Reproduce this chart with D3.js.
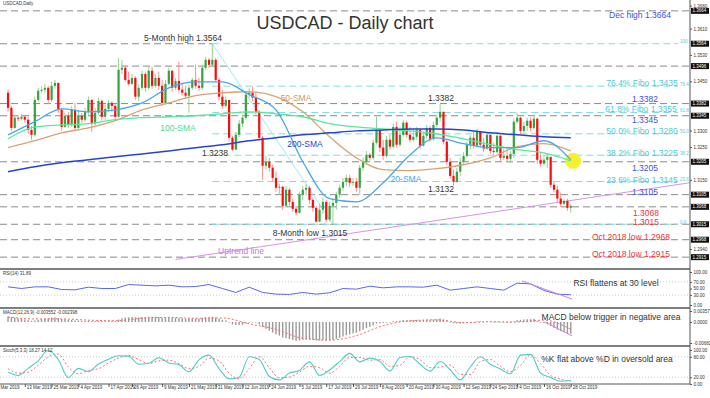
<!DOCTYPE html>
<html><head><meta charset="utf-8">
<script src="https://cdnjs.cloudflare.com/ajax/libs/d3/7.8.5/d3.min.js"></script>
<style>body{margin:0;background:#fff}svg{display:block;font-family:"Liberation Sans",Arial,sans-serif}</style>
</head><body><svg id="c" width="710" height="398"></svg>
<script>
// ---------------- DATA ----------------
const firstOpen = 1.3415;
const closes = [
1.3369,1.3308,1.3339,1.3336,1.3342,1.3333,1.3302,1.3287,1.3393,1.3421,
1.3424,1.3430,1.3393,1.3436,1.3445,1.3363,1.3311,1.3345,1.3317,1.3363,
1.3308,1.3345,1.3333,1.3357,1.3393,1.3321,1.3354,1.3390,1.3342,1.3366,
1.3384,1.3375,1.3342,1.3485,1.3491,1.3454,1.3442,1.3460,1.3403,1.3430,
1.3472,1.3430,1.3482,1.3436,1.3460,1.3436,1.3384,1.3442,1.3482,1.3430,
1.3451,1.3424,1.3415,1.3406,1.3430,1.3454,1.3436,1.3430,1.3491,1.3515,
1.3500,1.3515,1.3454,1.3403,1.3375,1.3393,1.3278,1.3242,1.3287,1.3321,
1.3339,1.3409,1.3415,1.3400,1.3357,1.3278,1.3193,1.3205,1.3187,1.3156,
1.3126,1.3129,1.3071,1.3120,1.3083,1.3062,1.3050,1.3105,1.3120,1.3126,
1.3089,1.3065,1.3023,1.3059,1.3083,1.3029,1.3071,1.3080,1.3105,1.3126,
1.3144,1.3156,1.3141,1.3144,1.3126,1.3187,1.3205,1.3226,1.3217,1.3263,
1.3302,1.3248,1.3223,1.3272,1.3251,1.3311,1.3257,1.3287,1.3324,1.3287,
1.3272,1.3281,1.3302,1.3254,1.3284,1.3308,1.3275,1.3317,1.3339,1.3357,
1.3266,1.3205,1.3162,1.3144,1.3175,1.3205,1.3223,1.3257,1.3278,1.3254,
1.3296,1.3257,1.3245,1.3287,1.3238,1.3235,1.3284,1.3217,1.3223,1.3214,
1.3229,1.3327,1.3339,1.3299,1.3314,1.3330,1.3308,1.3336,1.3211,1.3199,
1.3211,1.3220,1.3135,1.3120,1.3093,1.3077,1.3086,1.3065,1.3071];
const highs = [
1.3424,1.3375,1.3348,1.3345,1.3351,1.3348,1.3342,1.3314,1.3403,1.3430,
1.3436,1.3442,1.3436,1.3448,1.3454,1.3439,1.3369,1.3354,1.3357,1.3375,
1.3384,1.3363,1.3354,1.3369,1.3403,1.3396,1.3369,1.3400,1.3396,1.3378,
1.3393,1.3390,1.3381,1.3521,1.3515,1.3497,1.3479,1.3472,1.3466,1.3442,
1.3482,1.3479,1.3494,1.3494,1.3472,1.3479,1.3454,1.3454,1.3491,1.3479,
1.3460,1.3509,1.3445,1.3436,1.3439,1.3460,1.3500,1.3460,1.3500,1.3524,
1.3521,1.3564,1.3521,1.3460,1.3424,1.3403,1.3393,1.3284,1.3296,1.3333,
1.3348,1.3418,1.3430,1.3433,1.3418,1.3363,1.3284,1.3223,1.3217,1.3196,
1.3175,1.3138,1.3132,1.3132,1.3126,1.3093,1.3071,1.3114,1.3132,1.3138,
1.3132,1.3096,1.3071,1.3077,1.3096,1.3089,1.3083,1.3093,1.3114,1.3135,
1.3156,1.3166,1.3166,1.3156,1.3156,1.3196,1.3217,1.3238,1.3232,1.3272,
1.3342,1.3308,1.3272,1.3284,1.3287,1.3321,1.3327,1.3311,1.3333,1.3330,
1.3311,1.3302,1.3311,1.3308,1.3293,1.3317,1.3314,1.3327,1.3348,1.3382,
1.3351,1.3272,1.3217,1.3181,1.3187,1.3217,1.3235,1.3266,1.3287,1.3296,
1.3305,1.3299,1.3278,1.3296,1.3281,1.3263,1.3296,1.3287,1.3245,1.3251,
1.3238,1.3336,1.3354,1.3342,1.3327,1.3339,1.3339,1.3348,1.3339,1.3235,
1.3223,1.3229,1.3220,1.3144,1.3132,1.3111,1.3093,1.3093,1.3077];
const lows = [
1.3357,1.3299,1.3305,1.3327,1.3330,1.3324,1.3290,1.3272,1.3281,1.3387,
1.3415,1.3415,1.3381,1.3387,1.3427,1.3354,1.3299,1.3308,1.3308,1.3311,
1.3299,1.3302,1.3324,1.3327,1.3348,1.3296,1.3314,1.3348,1.3330,1.3333,
1.3357,1.3357,1.3330,1.3339,1.3472,1.3448,1.3436,1.3439,1.3393,1.3390,
1.3424,1.3418,1.3424,1.3427,1.3430,1.3424,1.3375,1.3378,1.3436,1.3418,
1.3424,1.3415,1.3406,1.3396,1.3354,1.3424,1.3427,1.3421,1.3424,1.3485,
1.3491,1.3494,1.3448,1.3393,1.3366,1.3369,1.3266,1.3238,1.3242,1.3278,
1.3311,1.3333,1.3400,1.3390,1.3348,1.3269,1.3150,1.3181,1.3175,1.3147,
1.3114,1.3105,1.3059,1.3065,1.3071,1.3053,1.3041,1.3047,1.3089,1.3102,
1.3077,1.3053,1.3020,1.3022,1.3047,1.3020,1.3023,1.3015,1.3059,1.3096,
1.3117,1.3132,1.3129,1.3132,1.3114,1.3105,1.3178,1.3196,1.3208,1.3211,
1.3257,1.3235,1.3211,1.3217,1.3242,1.3245,1.3248,1.3251,1.3281,1.3278,
1.3263,1.3266,1.3272,1.3245,1.3251,1.3275,1.3266,1.3269,1.3311,1.3327,
1.3257,1.3196,1.3153,1.3132,1.3141,1.3162,1.3196,1.3217,1.3242,1.3245,
1.3248,1.3248,1.3235,1.3242,1.3229,1.3226,1.3229,1.3208,1.3211,1.3205,
1.3202,1.3217,1.3321,1.3290,1.3293,1.3299,1.3299,1.3302,1.3199,1.3190,
1.3193,1.3187,1.3126,1.3111,1.3083,1.3068,1.3074,1.3056,1.3050];

// moving averages, read every 8 candles
const smaIdx = d3.range(0, 169, 8);
const sma20  = [1.3287,1.3327,1.3366,1.3357,1.3363,1.3384,1.3430,1.3448,1.3448,1.3409,1.3363,1.3205,1.3093,1.3083,1.3141,1.3226,1.3278,1.3260,1.3248,1.3248,1.3269,1.3211];
const sma50  = [1.3248,1.3269,1.3293,1.3308,1.3330,1.3363,1.3384,1.3406,1.3415,1.3418,1.3403,1.3357,1.3281,1.3217,1.3181,1.3178,1.3184,1.3196,1.3217,1.3251,1.3260,1.3238];
const sma100 = [1.3275,1.3311,1.3317,1.3321,1.3333,1.3339,1.3342,1.3345,1.3351,1.3357,1.3351,1.3342,1.3321,1.3311,1.3305,1.3299,1.3290,1.3275,1.3257,1.3242,1.3232,1.3208];
const sma200 = [1.3175,1.3190,1.3202,1.3211,1.3220,1.3229,1.3238,1.3248,1.3257,1.3269,1.3278,1.3287,1.3293,1.3299,1.3302,1.3305,1.3305,1.3302,1.3293,1.3287,1.3281,1.3278];

const levels = [1.3664,1.3564,1.3496,1.3382,1.3345,1.3205,1.3105,1.3068,1.3015,1.2968,1.2915];
const fibLevels = [1.3564,1.3435,1.3355,1.3290,1.3225,1.3145,1.3015];
const fibNames = ["100.0","76.4","61.8","50.0","38.2","23.6","0.0"];
const fibHighIdx = 61, fibLowIdx = 97;
const uptrend = [[50, 1.2908], [204, 1.3142]];
const priceTicks = [1.3680,1.3610,1.3530,1.3450,1.3300,1.3250,1.3150,1.2940];

// RSI, read every 4 candles
const rsiIdx = d3.range(0, 169, 4);
const rsi = [55,50,55,55,47,46,54,50,50,62,60,58,60,55,56,62,50,38,54,38,33,32,38,33,37,50,48,57,52,55,55,54,60,45,50,55,50,45,66,64,44,33,31];
const rsiTrend = [[153.4, 73], [168.4, 18]];

// MACD histogram per candle, signal read every 8 candles
const macd = [
0.0018,0.0016,0.0014,0.0012,0.0010,0.0008,0.0006,0.0004,0.0005,0.0007,0.0009,
0.0011,0.0012,0.0014,0.0015,0.0013,0.0010,0.0009,0.0007,0.0007,0.0005,
0.0005,0.0004,0.0004,0.0005,0.0003,0.0003,0.0004,0.0003,0.0003,0.0004,0.0004,0.0003,
0.0008,0.0012,0.0014,0.0015,0.0016,0.0015,0.0015,0.0016,0.0016,0.0017,0.0017,0.0017,0.0016,
0.0014,0.0014,0.0015,0.0014,0.0014,0.0013,0.0012,0.0011,0.0011,0.0011,0.0011,0.0011,0.0013,0.0015,0.0016,0.0017,
0.0015,0.0011,0.0007,0.0005,-0.0002,-0.0008,-0.0010,-0.0010,-0.0009,-0.0005,-0.0002,0.0000,-0.0002,-0.0008,
-0.0016,-0.0022,-0.0028,-0.0034,-0.0040,-0.0044,-0.0050,-0.0052,-0.0055,-0.0058,-0.0061,-0.0060,-0.0058,-0.0057,-0.0057,-0.0058,-0.0060,-0.0060,-0.0059,-0.0060,-0.0059,-0.0058,
-0.0055,-0.0051,-0.0047,-0.0043,-0.0040,-0.0037,-0.0035,-0.0030,-0.0025,-0.0020,-0.0016,-0.0011,-0.0005,
-0.0004,-0.0003,-0.0001,0.0000,0.0003,0.0003,0.0004,0.0006,0.0006,0.0006,0.0006,0.0007,0.0006,0.0006,0.0007,0.0007,0.0008,0.0009,
0.0011,0.0008,0.0004,0.0000,-0.0004,-0.0005,-0.0005,-0.0004,-0.0002,0.0000,0.0000,0.0002,0.0002,0.0001,0.0002,0.0001,0.0000,0.0001,-0.0001,-0.0002,-0.0003,-0.0003,
0.0002,0.0006,0.0007,0.0008,0.0009,0.0009,0.0010,
0.0004,0.0000,-0.0004,-0.0007,-0.0013,-0.0019,-0.0025,-0.0030,-0.0033,-0.0036,-0.0038];
const signalIdx = d3.range(0, 169, 8);
const signal = [0.0016,0.0010,0.0010,0.0006,0.0004,0.0012,0.0015,0.0012,0.0013,-0.0006,-0.0024,-0.0053,-0.0059,-0.0044,-0.0012,0.0004,0.0007,-0.0002,0.0001,0.0000,0.0006,-0.0024];
const macdTrend = [[160.3, 0.0000], [168.4, -0.0045]];

// Stochastic, read every 3 candles
const stochIdx = d3.range(0, 169, 3);
const stochK = [35,25,46,68,100,72,19,46,36,59,73,83,82,58,61,77,62,57,36,71,85,45,15,20,80,72,22,12,32,40,65,25,41,66,90,65,76,67,38,78,81,58,38,66,42,12,50,80,58,44,30,85,87,32,19,8,11];
const stochD = [45,32,35,55,80,88,50,30,40,45,62,76,84,72,60,68,70,60,45,52,76,68,32,15,45,80,48,18,20,35,52,48,32,52,78,78,70,72,52,55,80,72,48,50,56,28,28,66,72,52,36,55,86,60,25,14,8];

const dateIdx = [-4,5,13,21,30,37,46,54,62,70,78,87,95,103,111,119,127,136,144,152,160,168];
const dateLabels = ["1 Mar 2019","13 Mar 2019","25 Mar 2019","4 Apr 2019","17 Apr 2019","26 Apr 2019","9 May 2019","21 May 2019","31 May 2019","12 Jun 2019","24 Jun 2019","5 Jul 2019","17 Jul 2019","29 Jul 2019","8 Aug 2019","20 Aug 2019","30 Aug 2019","12 Sep 2019","24 Sep 2019","4 Oct 2019","16 Oct 2019","28 Oct 2019"];

// ---------------- CHART ----------------
const PR = 690;
const svg = d3.select('#c');
const x = d3.scaleLinear().domain([-2.4, 203.6]).range([0, PR]);
const y = d3.scaleLinear().domain([1.3697, 1.2882]).range([0, 268]);
const yR = d3.scaleLinear().domain([0, 100]).range([305, 272]);
const yM = d3.scaleLinear().domain([-0.00682, 0.00357]).range([343, 311]);
const yS = d3.scaleLinear().domain([0, 100]).range([384, 350]);

const defs = svg.append('defs');
function clip(id, y0, h){ defs.append('clipPath').attr('id', id).append('rect').attr('x',0).attr('y',y0).attr('width',PR).attr('height',h); }
clip('cm',0,268); clip('cr',270,38); clip('cmd',309,37); clip('cs',347,37);

const main = svg.append('g').attr('clip-path','url(#cm)');

// horizontal S/R levels
levels.forEach(v => {
  main.append('line').attr('x1',0).attr('x2', v===fibLevels[0] ? x(fibHighIdx) : PR)
    .attr('y1',y(v)).attr('y2',y(v)).attr('stroke','#8a8a8a').attr('stroke-width',1).attr('stroke-dasharray','7,4');
});
// fibo levels
fibLevels.forEach((v,i) => {
  main.append('line').attr('x1',x(fibHighIdx)).attr('x2',678).attr('y1',y(v)).attr('y2',y(v))
    .attr('stroke','#7fdce4').attr('stroke-width',1).attr('stroke-dasharray','7,4');
  main.append('text').attr('x',680).attr('y',y(v)-0.5).attr('font-size',4.5).attr('fill','#5cc8d0').text(fibNames[i]);
});
main.append('line').attr('x1',x(fibHighIdx)).attr('y1',y(fibLevels[0])).attr('x2',x(fibLowIdx)).attr('y2',y(fibLevels[6]))
  .attr('stroke','#9ee8f0').attr('stroke-width',1);

// uptrend line
main.append('line').attr('x1',x(uptrend[0][0])).attr('y1',y(uptrend[0][1])).attr('x2',x(uptrend[1][0])).attr('y2',y(uptrend[1][1]))
  .attr('stroke','#d892e8').attr('stroke-width',1);

// candles
const cdl = closes.map((c,i) => {
  const o = i===0 ? firstOpen : closes[i-1];
  return {i, o, c, h: Math.max(highs[i], o, c), l: Math.min(lows[i], o, c)};
});
main.selectAll('.wick').data(cdl).join('line')
  .attr('x1',d=>x(d.i)).attr('x2',d=>x(d.i)).attr('y1',d=>y(d.h)).attr('y2',d=>y(d.l))
  .attr('stroke',d=>d.c>=d.o?'#8fd68f':'#ff8c8c').attr('stroke-width',1);
main.selectAll('.body').data(cdl).join('rect')
  .attr('x',d=>x(d.i)-1.1).attr('width',2.2)
  .attr('y',d=>y(Math.max(d.o,d.c))).attr('height',d=>Math.max(1, Math.abs(y(d.o)-y(d.c))))
  .attr('fill',d=>d.c>=d.o?'#35a33f':'#ff0a0a');

// yellow highlight
main.append('circle').attr('cx',x(168.7)).attr('cy',y(1.3208)).attr('r',8).attr('fill','#f6f022').attr('opacity',0.95);

// SMAs
const smaLine = d3.line().x((d,i)=>x(smaIdx[i])).y(d=>y(d)).curve(d3.curveMonotoneX);
[[sma50,'#d9a374',1.3],[sma100,'#56e89c',1.3],[sma200,'#2444d4',1.5],[sma20,'#48a6ee',1.3]].forEach(([arr,col,w]) => {
  main.append('path').attr('d',smaLine(arr)).attr('fill','none').attr('stroke',col).attr('stroke-width',w);
});

// ---------- texts ----------
function txt(t, tx, ty, col, size, anchor){
  svg.append('text').attr('x',tx).attr('y',ty).attr('fill',col).attr('font-size',size||8.5)
    .attr('text-anchor',anchor||'middle').text(t);
}
txt('USDCAD,Daily',3,5,'#333',4.5,'start');
txt('USDCAD - Daily chart',345,29,'#333',18);
txt('5-Month high 1.3564',183,41,'#333');
txt('Dec high 1.3664',640,18,'#3d50e2');
txt('76.4% Fibo 1.3435',642,86,'#4ccad4');
txt('61.8% Fibo 1.3355',641,112,'#4ccad4');
txt('50.0% Fibo 1.3280',642,134,'#4ccad4');
txt('38.2% Fibo 1.3225',642,156,'#4ccad4');
txt('23.6% Fibo 1.3145',642,183,'#4ccad4');
txt('1.3382',645,102,'#3d50e2');
txt('1.3345',645,123,'#3d50e2');
txt('1.3205',645,171,'#3d50e2');
txt('1.3105',645,195,'#3d50e2');
txt('1.3068',646,216,'#f03434');
txt('1.3015',646,225,'#f03434');
txt('Oct 2018 low 1.2968',631,240,'#f03434');
txt('Oct 2018 low 1.2915',631,257,'#f03434');
txt('1.3382',441,101,'#333');
txt('1.3238',215,156,'#333');
txt('1.3132',441,192,'#333');
txt('8-Month low 1.3015',310,236,'#333');
txt('Uptrend line',241,254,'#c577de');
txt('50-SMA',296,101,'#d49662');
txt('200-SMA',305,147,'#2444d4');
txt('100-SMA',178,131,'#44e08c');
txt('20-SMA',406,182,'#48a6ee');

// ---------- RSI ----------
const rg = svg.append('g').attr('clip-path','url(#cr)');
[70,30].forEach(v=> rg.append('line').attr('x1',0).attr('x2',PR).attr('y1',yR(v)).attr('y2',yR(v)).attr('stroke','#c8c8c8').attr('stroke-dasharray','1,2'));
rg.append('path').attr('d', d3.line().x((d,i)=>x(rsiIdx[i])).y(d=>yR(d))(rsi)).attr('fill','none').attr('stroke','#5a66f2').attr('stroke-width',1);
rg.append('line').attr('x1',x(rsiTrend[0][0])).attr('y1',yR(rsiTrend[0][1])).attr('x2',x(rsiTrend[1][0])).attr('y2',yR(rsiTrend[1][1])).attr('stroke','#d080e6').attr('stroke-width',1);
txt('RSI(14) 31.89',3,275,'#333',4.5,'start');
txt('RSI flattens at 30 level',616,286,'#333');

// ---------- MACD ----------
const mg = svg.append('g').attr('clip-path','url(#cmd)');
mg.selectAll('rect').data(macd).join('rect')
  .attr('x',(d,i)=>x(i)-0.7).attr('width',1.4)
  .attr('y',d=>Math.min(yM(d),yM(0))).attr('height',d=>Math.max(0.6,Math.abs(yM(d)-yM(0))))
  .attr('fill','#9a9a9a');
mg.append('path').attr('d', d3.line().x((d,i)=>x(signalIdx[i])).y(d=>yM(d)).curve(d3.curveMonotoneX)(signal))
  .attr('fill','none').attr('stroke','#ff6a6a').attr('stroke-width',1).attr('stroke-dasharray','2,2');
mg.append('line').attr('x1',x(macdTrend[0][0])).attr('y1',yM(macdTrend[0][1])).attr('x2',x(macdTrend[1][0])).attr('y2',yM(macdTrend[1][1])).attr('stroke','#d080e6').attr('stroke-width',1);
txt('MACD(12,26,9) -0.003552 -0.002398',3,314,'#333',4.5,'start');
txt('MACD below trigger in negative area',611,320,'#333');

// ---------- Stochastic ----------
const sg = svg.append('g').attr('clip-path','url(#cs)');
[80,20].forEach(v=> sg.append('line').attr('x1',0).attr('x2',PR).attr('y1',yS(v)).attr('y2',yS(v)).attr('stroke','#c8c8c8').attr('stroke-dasharray','1,2'));
const stLine = d3.line().x((d,i)=>x(stochIdx[i])).y(d=>yS(d)).curve(d3.curveMonotoneX);
sg.append('path').attr('d',stLine(stochD)).attr('fill','none').attr('stroke','#ff7070').attr('stroke-width',1).attr('stroke-dasharray','2,2');
sg.append('path').attr('d',stLine(stochK)).attr('fill','none').attr('stroke','#4ccfc6').attr('stroke-width',1.1);
txt('Stoch(5,3,3) 18.27 14.12',3,352,'#333',4.5,'start');
txt('%K flat above %D in oversold area',607,362,'#333');

// ---------- frame ----------
[269,308,346].forEach(v=> svg.append('line').attr('x1',0).attr('x2',PR).attr('y1',v).attr('y2',v).attr('stroke','#555').attr('stroke-width',1.6));
svg.append('line').attr('x1',0).attr('x2',PR).attr('y1',384).attr('y2',384).attr('stroke','#555').attr('stroke-width',1);
svg.append('line').attr('x1',PR).attr('x2',PR).attr('y1',0).attr('y2',384).attr('stroke','#555').attr('stroke-width',1);

function styleAxis(g){ g.select('.domain').remove(); g.selectAll('text').attr('font-size',4.5).attr('fill','#333'); g.selectAll('line').attr('stroke','#555'); }
svg.append('g').attr('transform',`translate(${PR},0)`)
  .call(d3.axisRight(y).tickValues(priceTicks).tickSize(2).tickPadding(1.5).tickFormat(d3.format('.4f'))).call(styleAxis);
svg.append('g').attr('transform',`translate(${PR},0)`)
  .call(d3.axisRight(yR).tickValues([100,70,50,30,0]).tickSize(2).tickPadding(1.5).tickFormat(d3.format('.2f'))).call(styleAxis);
svg.append('g').attr('transform',`translate(${PR},0)`)
  .call(d3.axisRight(yM).tickValues([0.00357,0,-0.00682]).tickSize(2).tickPadding(1.5).tickFormat(d=>d===0?'0.0000':d.toFixed(5))).call(styleAxis);
svg.append('g').attr('transform',`translate(${PR},0)`)
  .call(d3.axisRight(yS).tickValues([100,80,20,0]).tickSize(2).tickPadding(1.5).tickFormat(d3.format('.2f'))).call(styleAxis);

// level boxes on the price axis
levels.forEach(v => {
  svg.append('rect').attr('x',PR+1).attr('y',y(v)-3).attr('width',18).attr('height',6).attr('fill','#111');
  svg.append('text').attr('x',PR+2.5).attr('y',y(v)+1.6).attr('font-size',4.5).attr('fill','#fff').text(d3.format('.4f')(v));
});

// date axis
const xa = svg.append('g').attr('transform','translate(0,384)')
  .call(d3.axisBottom(x).tickValues(dateIdx).tickSize(3).tickFormat((d,i)=>dateLabels[i]));
xa.select('.domain').remove();
xa.selectAll('line').attr('stroke','#555');
xa.selectAll('text').attr('font-size',4.5).attr('fill','#333').attr('text-anchor','start').attr('dx',1.5).attr('dy',-1);
</script></body></html>
